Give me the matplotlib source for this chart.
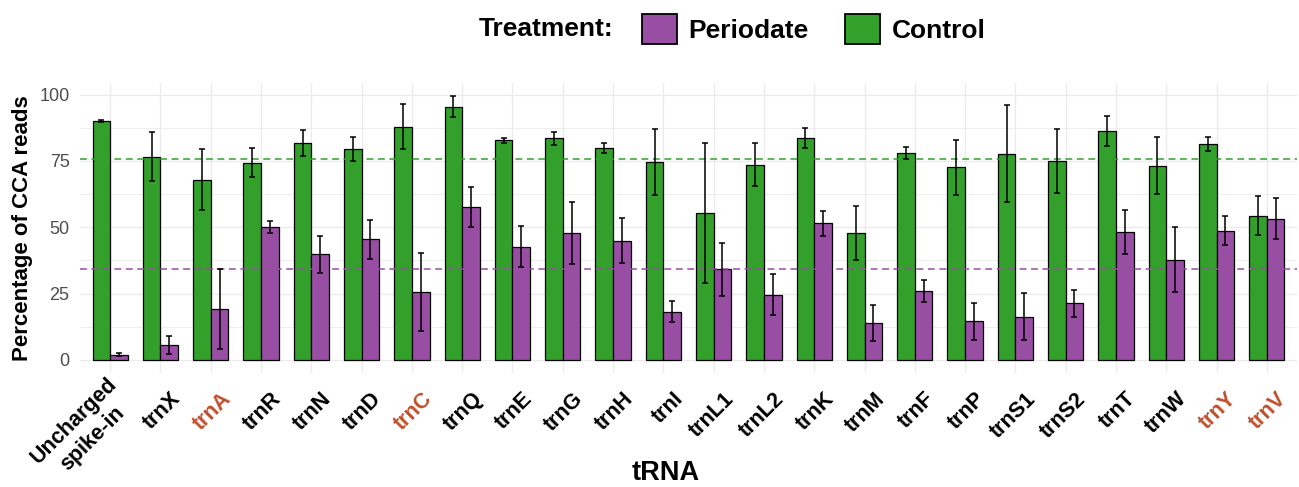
import numpy as np
import matplotlib
matplotlib.use("Agg")
import matplotlib.pyplot as plt
from matplotlib.patches import Patch
from matplotlib.transforms import ScaledTranslation


TRNAS = [
    "Uncharged\nspike-in", "trnX", "trnA", "trnR", "trnN", "trnD", "trnC",
    "trnQ", "trnE", "trnG", "trnH", "trnI", "trnL1", "trnL2", "trnK",
    "trnM", "trnF", "trnP", "trnS1", "trnS2", "trnT", "trnW", "trnY", "trnV",
]
HIGHLIGHT = ["trnA", "trnC", "trnY", "trnV"]

CONTROL_MEAN = [
    90.0, 76.6, 67.9, 74.4, 81.7, 79.4, 87.9, 95.5, 82.8, 83.5, 79.9, 74.5,
    55.4, 73.6, 83.7, 47.9, 77.9, 72.6, 77.7, 75.0, 86.2, 73.2, 81.4, 54.4,
]
CONTROL_ERR = [
    0.3, 9.2, 11.5, 5.4, 4.8, 4.5, 8.4, 4.0, 1.0, 2.6, 1.8, 12.4,
    26.4, 8.2, 3.8, 10.2, 2.2, 10.4, 18.3, 12.0, 5.7, 10.7, 2.8, 7.3,
]
PERIODATE_MEAN = [
    1.9, 5.6, 19.1, 50.0, 39.8, 45.5, 25.5, 57.6, 42.7, 47.9, 44.9, 18.1,
    34.1, 24.6, 51.5, 13.8, 25.9, 14.6, 16.3, 21.3, 48.2, 37.8, 48.7, 53.2,
]
PERIODATE_ERR = [
    0.6, 3.3, 15.0, 2.3, 7.0, 7.4, 14.6, 7.5, 7.7, 11.7, 8.4, 4.0,
    10.0, 7.6, 4.7, 6.8, 4.2, 7.0, 8.8, 5.2, 8.2, 12.2, 5.5, 7.7,
]

GREEN = "#33A02C"
PURPLE = "#984EA3"
RED = "#BF4F2A"
GRID = "#EBEBEB"

plt.rcParams["font.family"] = ["Liberation Sans", "DejaVu Sans"]


def main():
    W, H = 1299, 487
    fig = plt.figure(figsize=(W / 100, H / 100), dpi=100)
    ax = fig.add_axes([80 / W, (H - 373) / H, 1217 / W, 290 / H])

    x = np.arange(len(TRNAS))
    width = 0.35

    ax.bar(x - width / 2, CONTROL_MEAN, width, color=GREEN,
           edgecolor="black", linewidth=0.9, zorder=2)
    ax.bar(x + width / 2, PERIODATE_MEAN, width, color=PURPLE,
           edgecolor="black", linewidth=0.9, zorder=2)

    # mean lines exclude the spike-in control
    ax.axhline(np.mean(CONTROL_MEAN[1:]), color=GREEN, linewidth=1.1,
               dashes=(4.5, 3), zorder=3)
    ax.axhline(np.mean(PERIODATE_MEAN[1:]), color=PURPLE, linewidth=1.1,
               dashes=(4.5, 3), zorder=3)

    ax.errorbar(x - width / 2, CONTROL_MEAN, yerr=CONTROL_ERR, fmt="none",
                ecolor="black", elinewidth=1.1, capsize=2.2, capthick=1.1, zorder=4)
    ax.errorbar(x + width / 2, PERIODATE_MEAN, yerr=PERIODATE_ERR, fmt="none",
                ecolor="black", elinewidth=1.1, capsize=2.2, capthick=1.1, zorder=4)

    ax.set_xlim(-0.6, len(TRNAS) - 0.4)
    ax.set_ylim(-4.97, 104.4)

    ax.set_yticks([0, 25, 50, 75, 100])
    ax.set_yticks([12.5, 37.5, 62.5, 87.5], minor=True)
    ax.grid(which="major", color=GRID, linewidth=1.0, zorder=0)
    ax.grid(which="minor", axis="y", color=GRID, linewidth=0.6, zorder=0)
    ax.set_axisbelow(True)
    for spine in ax.spines.values():
        spine.set_visible(False)

    ax.tick_params(axis="y", which="both", length=0, pad=7.5,
                   labelsize=13, labelcolor="#4D4D4D")
    ax.tick_params(axis="x", length=0, pad=16.5)

    ax.set_xticks(x)
    ax.set_xticklabels(TRNAS, fontsize=15.5, fontweight="bold", rotation=45,
                       rotation_mode="anchor", ha="right", va="center",
                       multialignment="center", linespacing=1.3)
    shift = ScaledTranslation(0.17, 0, fig.dpi_scale_trans)
    # the two-line label sits a little higher up-left
    shift_multi = ScaledTranslation(0.13, 0.06, fig.dpi_scale_trans)
    for lab in ax.get_xticklabels():
        if "\n" in lab.get_text():
            lab.set_transform(lab.get_transform() + shift_multi)
        else:
            lab.set_transform(lab.get_transform() + shift)
        if lab.get_text() in HIGHLIGHT:
            lab.set_color(RED)

    ax.set_ylabel("Percentage of CCA reads", fontsize=16, fontweight="bold")
    ax.yaxis.set_label_coords(-0.0386, 0.5)

    fig.text(666 / W, 0.5 / H, "tRNA", fontsize=19.5, fontweight="bold",
             ha="center", va="bottom")

    # legend across the top
    handles = [
        Patch(facecolor=PURPLE, edgecolor="black", linewidth=1.3, label="Periodate"),
        Patch(facecolor=GREEN, edgecolor="black", linewidth=1.3, label="Control"),
    ]
    fig.legend(
        handles=handles,
        loc="center left",
        bbox_to_anchor=(642 / W, 1 - 29 / H),
        ncol=2,
        frameon=False,
        prop={"size": 19, "weight": "bold"},
        handlelength=1.33,
        handleheight=1.4,
        handletextpad=0.42,
        columnspacing=1.4,
        borderpad=0,
        borderaxespad=0,
    )
    fig.text(479 / W, 1 - 29 / H, "Treatment:", fontsize=19, fontweight="bold",
             ha="left", va="center")

    fig.savefig("out.png", dpi=100)
    plt.close(fig)


if __name__ == "__main__":
    main()
